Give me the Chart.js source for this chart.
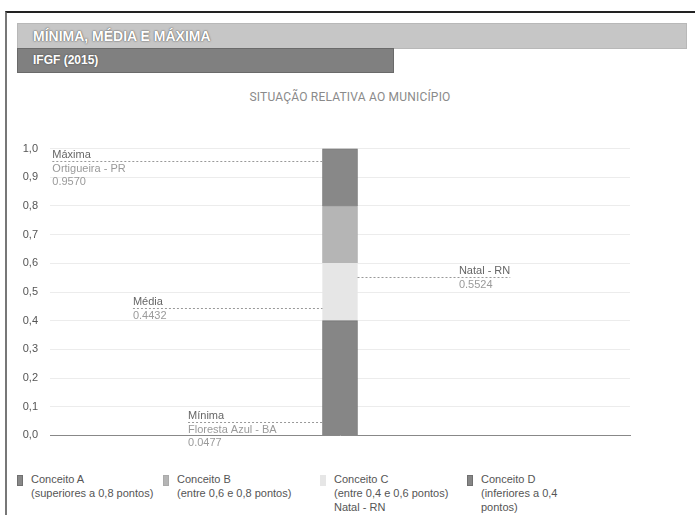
<!DOCTYPE html>
<html>
<head>
<meta charset="utf-8">
<script src="https://cdn.jsdelivr.net/npm/chart.js@4"></script>
<style>
  body { margin: 0; width: 695px; height: 515px; background: #fff; overflow: hidden; position: relative; font-family: Arial, "Liberation Sans", sans-serif; }
  #frame { position: absolute; left: 5px; top: 11px; width: 700px; height: 520px; border-top: 2px solid #222; border-left: 2px solid #777; }
  #head { position: absolute; left: 17px; top: 23px; width: 668px; height: 24px; background: #c6c6c6; border: 1px solid #b8b8b8; }
  #head span { position: absolute; left: 15px; top: 4px; color: #fff; font: bold 14px "Liberation Sans Narrow", "Arial Narrow", Arial, sans-serif; text-shadow: 0 0 2px #666, 0 0 1px #555; }
  #sub { position: absolute; left: 17px; top: 48px; width: 375px; height: 23px; background: #808080; border: 1px solid #6a6a6a; }
  #sub span { position: absolute; left: 15px; top: 4px; color: #fff; font: bold 12px "Liberation Sans Narrow", "Arial Narrow", Arial, sans-serif; text-shadow: 0 0 2px #444; }
  #title { position: absolute; left: 0; width: 700px; top: 90px; text-align: center; color: #8a8a8a; font: 12px Roboto, Arial, sans-serif; letter-spacing: 0.2px; }
  #wrap { position: absolute; left: 0; top: 130px; width: 660px; height: 324px; }
  #legend { position: absolute; left: 17px; top: 472px; display: flex; }
  .item { display: flex; font: 11px Arial, "Liberation Sans", sans-serif; color: #555; line-height: 14px; }
  .mk { width: 4px; height: 9px; margin: 3px 8px 0 0; border: 1px solid #666; flex: none; }
</style>
</head>
<body>
<div id="frame"></div>
<div id="head"><span>MÍNIMA, MÉDIA E MÁXIMA</span></div>
<div id="sub"><span>IFGF (2015)</span></div>
<div id="title">SITUAÇÃO RELATIVA AO MUNICÍPIO</div>
<div id="wrap"><canvas id="chart" width="660" height="324"></canvas></div>
<div id="legend"></div>
<script>
// data
const categories = ["IFGF (2015)"];
const conceptNames = ["Conceito A", "Conceito B", "Conceito C", "Conceito D"];
const conceptDesc = ["(superiores a 0,8 pontos)", "(entre 0,6 e 0,8 pontos)", "(entre 0,4 e 0,6 pontos)", "(inferiores a 0,4 pontos)"];
const bandFrom = [0.8, 0.6, 0.4, 0.0];
const bandTo = [1.0, 0.8, 0.6, 0.4];
const yTicks = [0, 0.1, 0.2, 0.3, 0.4, 0.5, 0.6, 0.7, 0.8, 0.9, 1.0];

const markNames = ["Máxima", "Média", "Mínima", "Natal - RN"];
const markPlaces = ["Ortigueira - PR", "", "Floresta Azul - BA", ""];
const markValues = [0.9570, 0.4432, 0.0477, 0.5524];
const municipality = "Natal - RN";
const municipalityValue = 0.5524;

// styles
const bandColors = ["#888888", "#b5b5b5", "#e6e6e6", "#868686"];
const bandBorders = ["#707070", "#aaaaaa", "#e6e6e6", "#707070"];
const markPosX = [0.004, 0.143, 0.238, 0.705]; // fraction of plot width
const markSide = ["left", "left", "left", "right"];
const legendWidths = [146, 157, 147, 95];

// legend (html)
const legend = document.getElementById("legend");
conceptNames.forEach((n, i) => {
  let txt = n + "<br>" + conceptDesc[i];
  if (municipalityValue >= bandFrom[i] && municipalityValue < bandTo[i]) txt += "<br>" + municipality;
  legend.innerHTML += '<div class="item" style="width:' + legendWidths[i] + 'px"><div class="mk" style="background:' +
    bandColors[i] + ';border-color:' + bandBorders[i] + '"></div><div>' + txt + '</div></div>';
});

// dashed reference lines with labels
const markers = {
  id: "markers",
  afterDatasetsDraw(chart) {
    const c = chart.ctx, a = chart.chartArea;
    const y = chart.scales.y;
    const bar = chart.getDatasetMeta(0).data[0];
    const bl = bar.x - bar.width / 2, br = bar.x + bar.width / 2;
    c.save();
    c.font = "11px Arial, 'Liberation Sans', sans-serif";
    c.textBaseline = "middle";
    markNames.forEach((name, i) => {
      const py = Math.round(y.getPixelForValue(markValues[i])) + 0.5;
      const tx = a.left + markPosX[i] * (a.right - a.left);
      const below = [];
      if (markPlaces[i]) below.push(markPlaces[i]);
      below.push(markValues[i].toFixed(4));
      let w = c.measureText(name).width;
      below.forEach(t => w = Math.max(w, c.measureText(t).width));
      c.strokeStyle = "#999";
      c.lineWidth = 1;
      c.setLineDash([2, 2]);
      c.beginPath();
      if (markSide[i] == "left") { c.moveTo(tx, py); c.lineTo(bl, py); }
      else { c.moveTo(br, py); c.lineTo(tx + w, py); }
      c.stroke();
      c.fillStyle = "#666";
      c.fillText(name, tx, py - 7);
      c.fillStyle = "#9a9a9a";
      below.forEach((t, k) => c.fillText(t, tx, py + 7 + k * 13));
    });
    c.restore();
  }
};

new Chart(document.getElementById("chart"), {
  type: "bar",
  data: {
    labels: categories,
    datasets: [3, 2, 1, 0].map(i => ({
      label: conceptNames[i],
      data: [+(bandTo[i] - bandFrom[i]).toFixed(2)],
      backgroundColor: bandColors[i],
      borderColor: bandBorders[i],
      borderWidth: 1,
      barThickness: 35
    }))
  },
  options: {
    responsive: false,
    animation: false,
    layout: { padding: { top: 18, right: 30, bottom: 3, left: 0 } },
    plugins: { legend: { display: false }, tooltip: { enabled: false } },
    scales: {
      x: {
        stacked: true,
        ticks: { display: false },
        grid: { display: false },
        border: { display: true, color: "#888", width: 1 }
      },
      y: {
        stacked: true,
        min: 0, max: 1,
        afterFit: s => { s.width = 50; },
        afterBuildTicks: s => { s.ticks = yTicks.map(v => ({ value: v })); },
        ticks: {
          padding: 12,
          color: "#555",
          font: { family: "Arial, 'Liberation Sans', sans-serif", size: 11 },
          callback: v => v.toFixed(1).replace(".", ",")
        },
        grid: { color: "#ececec", drawTicks: false },
        border: { display: false }
      }
    }
  },
  plugins: [markers]
});
</script>
</body>
</html>
